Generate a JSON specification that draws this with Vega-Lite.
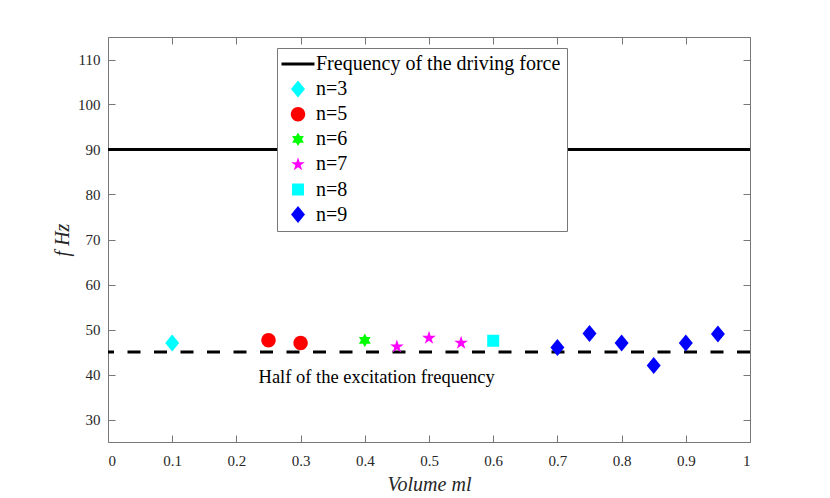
{
  "$schema": "https://vega.github.io/schema/vega-lite/v6.json",
  "width": 642,
  "height": 405,
  "autosize": "none",
  "padding": {"left": 108, "top": 37, "right": 80, "bottom": 56},
  "background": "white",
  "data": {
    "values": [
      {"vol": 0.1, "freq": 47, "series": "n=3"},
      {"vol": 0.25, "freq": 47.6, "series": "n=5"},
      {"vol": 0.3, "freq": 47, "series": "n=5"},
      {"vol": 0.4, "freq": 47.6, "series": "n=6"},
      {"vol": 0.45, "freq": 46.2, "series": "n=7"},
      {"vol": 0.5, "freq": 48.1, "series": "n=7"},
      {"vol": 0.55, "freq": 47, "series": "n=7"},
      {"vol": 0.6, "freq": 47.5, "series": "n=8"},
      {"vol": 0.7, "freq": 46, "series": "n=9"},
      {"vol": 0.75, "freq": 49.1, "series": "n=9"},
      {"vol": 0.8, "freq": 47, "series": "n=9"},
      {"vol": 0.85, "freq": 42, "series": "n=9"},
      {"vol": 0.9, "freq": 47, "series": "n=9"},
      {"vol": 0.95, "freq": 49, "series": "n=9"}
    ]
  },
  "resolve": {"axis": {"x": "independent", "y": "independent"}},
  "layer": [
    {
      "mark": {"type": "point", "opacity": 0},
      "encoding": {
        "x": {
          "field": "vol", "type": "quantitative",
          "scale": {"domain": [0, 1], "nice": false, "zero": false},
          "axis": {"orient": "top", "labels": false, "title": null, "grid": false, "domain": false, "tickSize": -7, "tickColor": "#777", "values": [0, 0.1, 0.2, 0.3, 0.4, 0.5, 0.6, 0.7, 0.8, 0.9, 1]}
        },
        "y": {
          "field": "freq", "type": "quantitative",
          "scale": {"domain": [25, 115], "nice": false, "zero": false},
          "axis": {"orient": "right", "labels": false, "title": null, "grid": false, "domain": false, "tickSize": -7, "tickColor": "#777", "values": [30, 40, 50, 60, 70, 80, 90, 100, 110]}
        }
      }
    },
    {
      "data": {"values": [{"level": 90}]},
      "mark": {"type": "rule", "color": "black", "strokeWidth": 3},
      "encoding": {"y": {"field": "level", "type": "quantitative", "axis": null}}
    },
    {
      "data": {"values": [{"level": 45}]},
      "mark": {"type": "rule", "color": "black", "strokeWidth": 3, "strokeDash": [13, 13.5]},
      "encoding": {"y": {"field": "level", "type": "quantitative", "axis": null}}
    },
    {
      "mark": {"type": "point", "filled": true, "opacity": 1, "size": 256, "strokeWidth": 0},
      "encoding": {
        "x": {
          "field": "vol", "type": "quantitative",
          "axis": {
            "orient": "bottom", "title": "Volume ml",
            "values": [0, 0.1, 0.2, 0.3, 0.4, 0.5, 0.6, 0.7, 0.8, 0.9, 1],
            "format": "~g", "grid": false, "domain": false,
            "tickSize": -7, "tickColor": "#777", "labelPadding": 18,
            "titlePadding": 6
          }
        },
        "y": {
          "field": "freq", "type": "quantitative",
          "axis": {
            "orient": "left", "title": "f Hz",
            "values": [30, 40, 50, 60, 70, 80, 90, 100, 110],
            "grid": false, "domain": false,
            "tickSize": -7, "tickColor": "#777", "labelPadding": 15,
            "titlePadding": 5
          }
        },
        "color": {
          "field": "series", "type": "nominal", "title": null,
          "scale": {
            "domain": ["Frequency of the driving force", "n=3", "n=5", "n=6", "n=7", "n=8", "n=9"],
            "range": ["#000000", "#00ffff", "#ff0000", "#00ff00", "#ff00ff", "#00ffff", "#0000ff"]
          }
        },
        "shape": {
          "field": "series", "type": "nominal", "title": null,
          "scale": {
            "domain": ["Frequency of the driving force", "n=3", "n=5", "n=6", "n=7", "n=8", "n=9"],
            "range": [
              "M-2.06,-0.19H2.06V0.19H-2.06Z",
              "M0,-1.06L0.875,0L0,1.06L-0.875,0Z",
              "M-0.9,0A0.9,0.9,0,1,0,0.9,0A0.9,0.9,0,1,0,-0.9,0Z",
              "M0,-0.85L0.245,-0.424L0.736,-0.425L0.49,0L0.736,0.425L0.245,0.424L0,0.85L-0.245,0.424L-0.736,0.425L-0.49,0L-0.736,-0.425L-0.245,-0.424Z",
              "M0,-0.9L0.202,-0.278L0.856,-0.278L0.327,0.106L0.529,0.728L0,0.344L-0.529,0.728L-0.327,0.106L-0.856,-0.278L-0.202,-0.278Z",
              "M-0.75,-0.75H0.75V0.75H-0.75Z",
              "M0,-1.06L0.875,0L0,1.06L-0.875,0Z"
            ]
          }
        }
      }
    },
    {
      "data": {"values": [{"note": "Half of the excitation frequency", "vol": 0.4185, "freq": 39.5}]},
      "mark": {"type": "text", "font": "Liberation Serif", "fontSize": 18.5, "align": "center", "baseline": "middle", "color": "black"},
      "encoding": {
        "x": {"field": "vol", "type": "quantitative", "axis": null},
        "y": {"field": "freq", "type": "quantitative", "axis": null},
        "text": {"field": "note"}
      }
    }
  ],
  "config": {
    "font": "Liberation Serif",
    "view": {"stroke": "#777", "strokeWidth": 1},
    "axis": {
      "labelFont": "Liberation Serif", "labelFontSize": 15, "labelColor": "#262626",
      "titleFont": "Liberation Serif", "titleFontSize": 20, "titleFontStyle": "italic",
      "titleFontWeight": "normal", "titleColor": "#262626"
    },
    "legend": {
      "orient": "none", "legendX": 169, "legendY": 11,
      "fillColor": "white", "strokeColor": "#777", "padding": 6, "symbolOffset": 5,
      "labelFont": "Liberation Serif", "labelFontSize": 20, "labelColor": "black",
      "labelOffset": 8, "symbolSize": 256, "symbolStrokeWidth": 0, "rowPadding": 5.1,
      "labelLimit": 400
    }
  }
}
